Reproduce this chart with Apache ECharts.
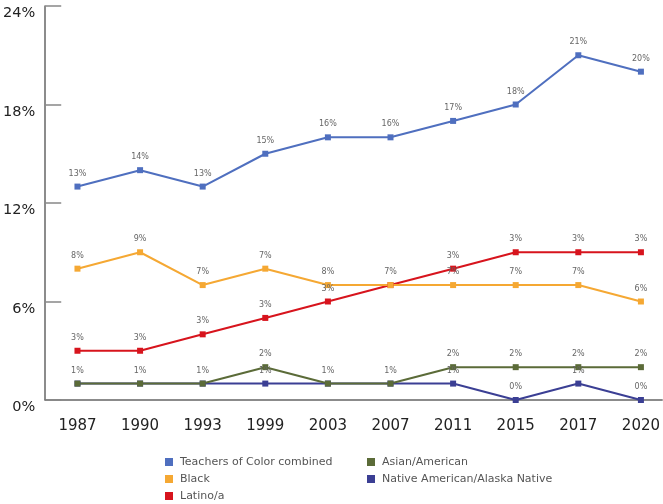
<!DOCTYPE html>
<html>
<head>
<meta charset="utf-8">
<script src="https://cdn.jsdelivr.net/npm/echarts@6/dist/echarts.min.js"></script>
<style>
  html, body { margin: 0; padding: 0; background: #ffffff; }
  #chart { width: 663px; height: 504px; }
</style>
</head>
<body>
<div id="chart"></div>
<script>
// Survey years along the horizontal axis
const years = ['1987', '1990', '1993', '1999', '2003', '2007', '2011', '2015', '2017', '2020'];

// Share of teachers (percent) by group
const combinedValues = [13, 14, 13, 15, 16, 16, 17, 18, 21, 20];
const blackValues    = [8, 9, 7, 8, 7, 7, 7, 7, 7, 6];
const latinoValues   = [3, 3, 4, 5, 6, 7, 8, 9, 9, 9];
const asianValues    = [1, 1, 1, 2, 1, 1, 2, 2, 2, 2];
const nativeValues   = [1, 1, 1, 1, 1, 1, 1, 0, 1, 0];

// Point labels as printed on the chart
const combinedLabels = ['13%', '14%', '13%', '15%', '16%', '16%', '17%', '18%', '21%', '20%'];
const blackLabels    = ['8%', '9%', '7%', '7%', '8%', '7%', '7%', '7%', '7%', '6%'];
const latinoLabels   = ['3%', '3%', '3%', '3%', '3%', '', '3%', '3%', '3%', '3%'];
const asianLabels    = ['1%', '1%', '1%', '2%', '1%', '1%', '2%', '2%', '2%', '2%'];
const nativeLabels   = ['', '', '', '1%', '', '', '1%', '0%', '1%', '0%'];

// Vertical axis ticks
const yTicks = [0, 6, 12, 18, 24];

const seriesNames = [
  'Teachers of Color combined',
  'Black',
  'Latino/a',
  'Asian/American',
  'Native American/Alaska Native'
];

const FONT = '"DejaVu Sans", sans-serif';

function makeSeries(name, values, labels, color) {
  return {
    name: name,
    type: 'line',
    data: values.map((v, i) => [i, v]),
    symbol: 'rect',
    symbolSize: 6,
    lineStyle: { color: color, width: 2 },
    itemStyle: { color: color },
    label: {
      show: true,
      position: 'top',
      distance: 6,
      fontFamily: FONT,
      fontSize: 8,
      color: '#666',
      formatter: p => labels[p.dataIndex]
    },
    emphasis: { disabled: true }
  };
}

function makeLegend(left, names) {
  return {
    orient: 'vertical',
    left: left,
    top: 450,
    height: 54,
    itemGap: 3,
    itemWidth: 8,
    itemHeight: 8,
    icon: 'rect',
    data: names,
    textStyle: { fontFamily: FONT, fontSize: 11, lineHeight: 14, color: '#555', padding: [0, 0, 0, 2] },
    selectedMode: false
  };
}

const chart = echarts.init(document.getElementById('chart'), null, { renderer: 'canvas' });

chart.setOption({
  animation: false,
  backgroundColor: '#ffffff',
  grid: { left: 45, right: 0, top: 6, bottom: 104, containLabel: false },
  xAxis: {
    type: 'value',
    min: -0.515,
    max: 9.34,
    splitLine: { show: false },
    axisTick: { show: false },
    axisLine: { show: true, onZero: false, lineStyle: { color: '#666', width: 1.5 } },
    axisLabel: {
      customValues: years.map((y, i) => i),
      formatter: v => years[Math.round(v)],
      margin: 19,
      fontFamily: FONT,
      fontSize: 15,
      color: '#222'
    }
  },
  yAxis: {
    type: 'value',
    min: yTicks[0],
    max: yTicks[yTicks.length - 1],
    interval: 6,
    splitLine: { show: false },
    axisLine: { show: true, onZero: false, lineStyle: { color: '#666', width: 1.5 } },
    axisTick: { show: true, inside: true, length: 16, lineStyle: { color: '#888', width: 1.5 } },
    axisLabel: {
      formatter: v => v + '%',
      verticalAlign: 'top',
      margin: 10,
      fontFamily: FONT,
      fontSize: 14.5,
      color: '#222'
    }
  },
  legend: [
    makeLegend(160, seriesNames.slice(0, 3)),
    makeLegend(362, seriesNames.slice(3))
  ],
  series: [
    makeSeries(seriesNames[4], nativeValues, nativeLabels, '#3b3f94'),
    makeSeries(seriesNames[3], asianValues, asianLabels, '#5b6b38'),
    makeSeries(seriesNames[2], latinoValues, latinoLabels, '#d7141d'),
    makeSeries(seriesNames[1], blackValues, blackLabels, '#f5a833'),
    makeSeries(seriesNames[0], combinedValues, combinedLabels, '#4f6fbf')
  ]
});
</script>
</body>
</html>
